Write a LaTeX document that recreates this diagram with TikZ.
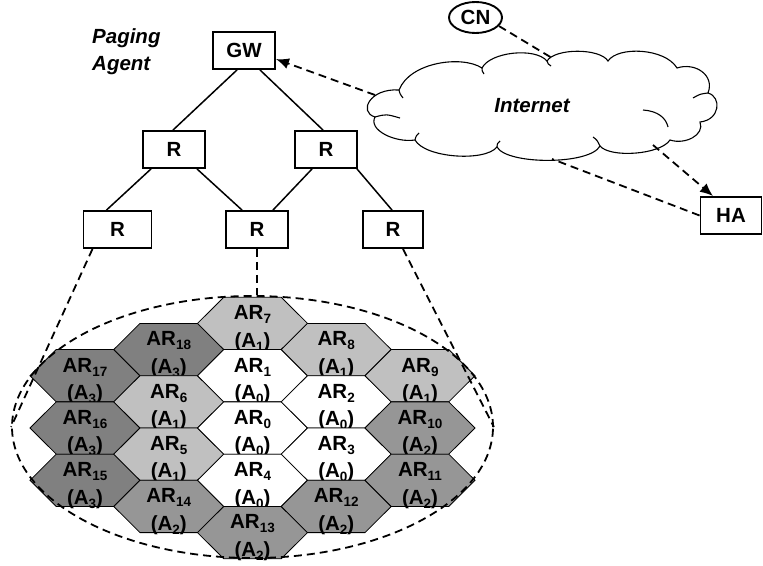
\documentclass[tikz,border=0pt]{standalone}
\usepackage{fontspec}
\setmainfont{Liberation Sans}
\usetikzlibrary{shapes.geometric,arrows.meta}
\definecolor{hexlt}{HTML}{C0C0C0}
\definecolor{hexmd}{HTML}{969696}
\definecolor{hexdk}{HTML}{808080}
\newcommand\sbs[1]{\raisebox{-4pt}{\fontsize{13.5}{14}\selectfont #1}}
\begin{document}
\begin{tikzpicture}[x=1pt,y=-1pt,
  every node/.style={font=\fontsize{20.5}{24}\selectfont\bfseries},
  box/.style={draw,line width=1.9pt,minimum height=37pt,inner sep=0pt},
  tree/.style={line width=1.5pt},
  dline/.style={line width=1.8pt,dash pattern=on 8pt off 5pt},
  hexedge/.style={line width=0.8pt,draw=black},
  lab/.style={anchor=base,inner sep=0pt},
  itl/.style={font=\fontsize{20.5}{24}\selectfont\bfseries\itshape},
  tip/.style={-{Latex[length=13pt,width=11pt]}}]
\useasboundingbox (0,0) rectangle (763,565);

% hexagon cells
\foreach \x/\y/\c/\r/\a in {
 85/375.7/hexdk/17/3, 85/428/hexdk/16/3, 85/480.3/hexdk/15/3,
 168.75/349.55/hexdk/18/3, 168.75/401.85/hexlt/6/1, 168.75/454.15/hexlt/5/1, 168.75/506.45/hexmd/14/2,
 252.5/323.4/hexlt/7/1, 252.5/375.7/white/1/0, 252.5/428/white/0/0, 252.5/480.3/white/4/0, 252.5/532.6/hexmd/13/2,
 336.25/349.55/hexlt/8/1, 336.25/401.85/white/2/0, 336.25/454.15/white/3/0, 336.25/506.45/hexmd/12/2,
 420/375.7/hexlt/9/1, 420/428/hexmd/10/2, 420/480.3/hexmd/11/2}{
  \draw[hexedge,fill=\c] ({\x-55},\y) -- ({\x-28.75},{\y-26.15}) -- ({\x+28.75},{\y-26.15})
     -- ({\x+55},\y) -- ({\x+28.75},{\y+26.15}) -- ({\x-28.75},{\y+26.15}) -- cycle;
  \node[lab] (ar\r) at (\x,{\y-3.7}) {AR\sbs{\r}};
  \node[lab] (ar\r a) at (\x,{\y+23.7}) {(A\sbs{\a})};
}

% dashed ellipse around the cells
\node[draw,dline,ellipse,minimum width=481pt,minimum height=262pt,inner sep=0pt] (ell) at (252.5,427) {};

% tree
\node[box,minimum width=62pt] (gw) at (244,50.5) {GW};
\node[box,minimum width=62pt] (r1l) at (174,149.5) {R};
\node[box,minimum width=62pt] (r1r) at (326,149.5) {R};
\node[box,minimum width=68pt] (r2l) at (117.5,229.5) {R};
\node[box,minimum width=62pt] (r2m) at (257,229.5) {R};
\node[box,minimum width=60pt] (r2r) at (393,229.5) {R};

\draw[tree] ([xshift=-7pt]gw.south) -- ([xshift=-1pt]r1l.north);
\draw[tree] ([xshift=16pt]gw.south) -- ([xshift=-3pt]r1r.north);
\draw[tree] ([xshift=-23pt]r1l.south) -- ([xshift=-11pt]r2l.north);
\draw[tree] ([xshift=23pt]r1l.south) -- ([xshift=-15pt]r2m.north);
\draw[tree] ([xshift=-14pt]r1r.south) -- ([xshift=16pt]r2m.north);
\draw[tree] ([xshift=31pt]r1r.south) -- ([xshift=-1pt]r2r.north);

\draw[dline] ([xshift=-25pt]r2l.south) -- (ell.west);
\draw[dline] ([xshift=10pt]r2r.south) -- (ell.east);
\draw[dline] (r2m.south) -- (r2m.south |- ell.north);

\node[lab,anchor=base west,itl] (pg1) at (92,43.3) {Paging};
\node[lab,anchor=base west,itl] (pg2) at (92,70.3) {Agent};

% internet cloud
\draw[line width=1.1pt,fill=white]
  (399,90) .. controls (410,62) and (462,55) .. (482,68)
  .. controls (490,52) and (535,47) .. (547,61)
  .. controls (555,48) and (600,48) .. (608,61)
  .. controls (618,46) and (665,48) .. (677,68)
  .. controls (695,62) and (715,75) .. (708,93)
  .. controls (722,97) and (720,120) .. (700,122)
  .. controls (705,135) and (685,145) .. (670,140)
  .. controls (660,155) and (610,158) .. (600,146)
  .. controls (590,165) and (507,165) .. (497,147)
  .. controls (485,162) and (425,158) .. (415,140)
  .. controls (395,143) and (368,130) .. (375,117)
  .. controls (358,112) and (370,88) .. (399,90) -- cycle;
\draw[line width=1.1pt]
  (693,98) .. controls (700,94) .. (708,93)
  (643,110) .. controls (658,111) and (666,118) .. (668,127)
  (593,137) .. controls (597,140) .. (600,146)
  (497,147) .. controls (497,144) .. (500,141)
  (415,140) .. controls (416,136) .. (419,133)
  (375,117) .. controls (386,114) .. (400,118)
  (547,61) .. controls (548,64) .. (551,66)
  (482,68) .. controls (482,71) .. (484,74)
  (399,90) .. controls (400,94) .. (403,98);
\node[itl] (inet) at (532,106) {Internet};

\node[draw,ellipse,line width=1.9pt,minimum width=53pt,minimum height=31pt,inner sep=0pt] (cn) at (475.5,17.5) {CN};
\node[box,minimum width=61pt] (ha) at (731,215.5) {HA};

\coordinate (c1) at (552,58);
\coordinate (c2) at (375,95);
\coordinate (c3) at (653,145);
\coordinate (c4) at (552,159);

\draw[dline] (cn.-20) -- (c1);
\draw[dline,tip] (c2) -- (gw.-15);
\draw[dline,tip] (c3) -- ([xshift=-18pt]ha.north);
\draw[dline] (ha.west) -- (c4);
\end{tikzpicture}
\end{document}
